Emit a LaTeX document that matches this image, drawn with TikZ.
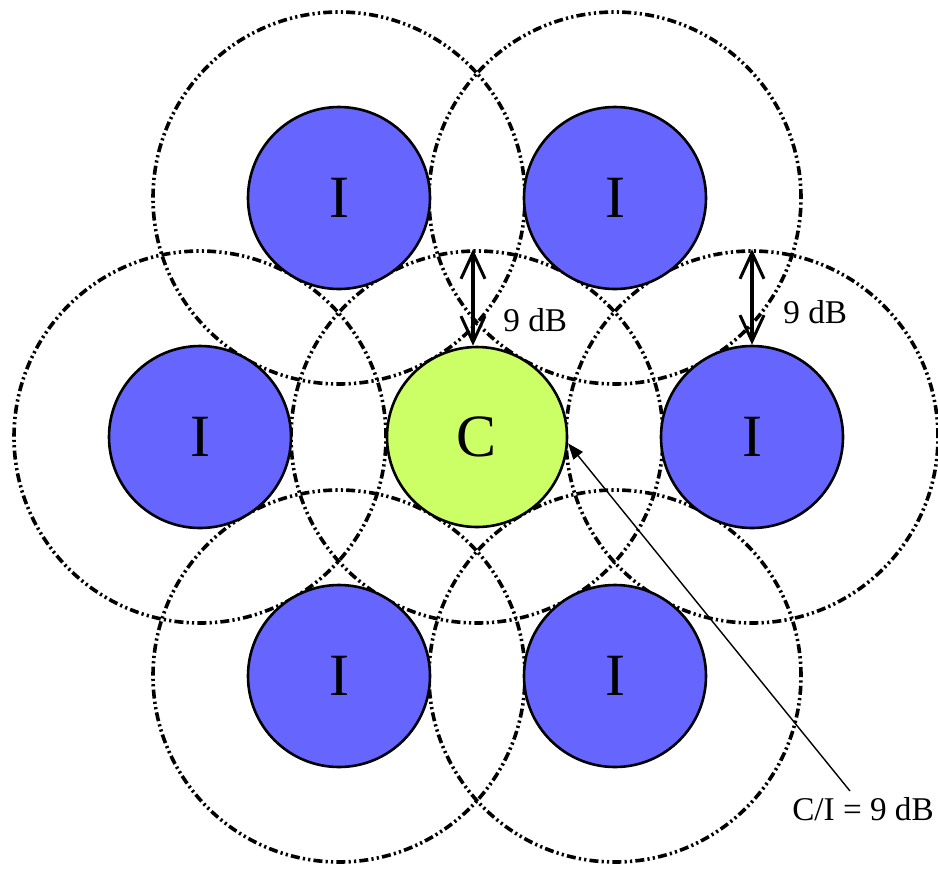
\documentclass[tikz,border=0pt]{standalone}
\usepackage{fontspec}
\setmainfont{Liberation Serif}
\usetikzlibrary{arrows.meta}
\definecolor{iblue}{RGB}{102,102,255}
\definecolor{clime}{RGB}{204,255,102}
\tikzset{
  reach/.style={circle, draw=black, line width=1.8pt, minimum size=186pt, inner sep=0pt,
    dash pattern=on 4.5pt off 1.6pt on 1.1pt off 1.6pt on 1.1pt off 1.6pt},
  icell/.style={circle, draw=black, line width=1.3pt, fill=iblue, minimum size=91pt, inner sep=0pt,
    font=\fontsize{30}{30}\selectfont},
  ccell/.style={circle, draw=black, line width=1.3pt, fill=clime, minimum size=90pt, inner sep=0pt,
    font=\fontsize{30}{30}\selectfont},
  dbarrow/.style={line width=2pt, {Straight Barb[length=13pt,width=12pt,line width=1.5pt]}-{Straight Barb[length=13pt,width=12pt,line width=1.5pt]}},
  lbl/.style={font=\fontsize{16.6}{18}\selectfont, inner sep=0pt}
}
\begin{document}
\begin{tikzpicture}[x=0.5pt,y=-0.5pt]
\useasboundingbox (0,0) rectangle (938,869);
% reach circles
\node[reach] (dTL) at (339,198) {};
\node[reach] (dTR) at (615,198) {};
\node[reach] (dL)  at (200,437) {};
\node[reach] (dR)  at (752,437) {};
\node[reach] (dBL) at (339,676) {};
\node[reach] (dBR) at (615,676) {};
\node[reach] (dC)  at (477,437) {};
% cells
\node[icell] (TL) at (339,198) {I};
\node[icell] (TR) at (615,198) {I};
\node[icell] (L)  at (200,437) {I};
\node[icell] (R)  at (752,437) {I};
\node[icell] (BL) at (339,676) {I};
\node[icell] (BR) at (615,676) {I};
\node[ccell] (C)  at (477,437) {C};
% 9 dB arrows
\draw[dbarrow] ([xshift=-2pt]dC.north) -- ([xshift=-2pt]C.north);
\draw[dbarrow] (dR.north) -- (R.north);
\node[lbl, anchor=west] (l1) at (503,320) {9 dB};
\node[lbl, anchor=west] (l2) at (783,312) {9 dB};
% C/I annotation
\node[lbl] (ci) at (863,809) {C/I = 9 dB};
\coordinate (ciend) at (850,791);
\draw[line width=0.7pt, -{Triangle[length=8pt,width=6pt]}] (ciend) -- (C.-4);
\end{tikzpicture}
\end{document}
